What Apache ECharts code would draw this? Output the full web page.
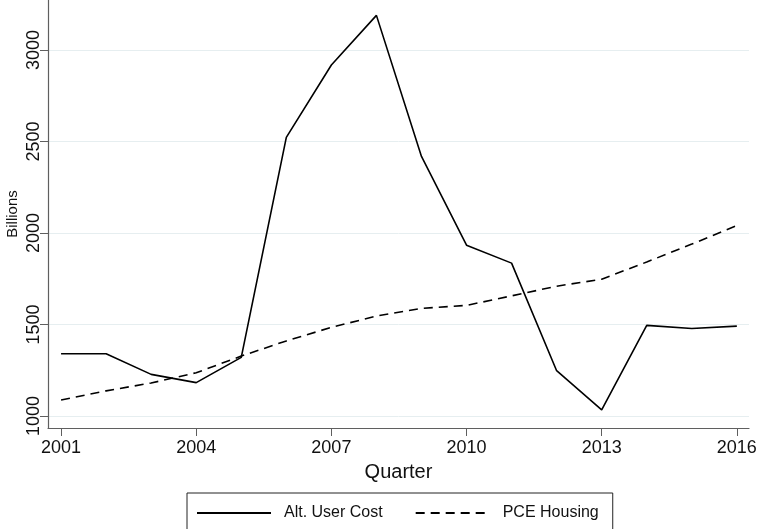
<!DOCTYPE html>
<html>
<head>
<meta charset="utf-8">
<script src="https://cdn.jsdelivr.net/npm/echarts@6/dist/echarts.min.js"></script>
<style>
  html, body { margin: 0; padding: 0; background: #fff; }
  #chart { width: 759px; height: 529px; }
</style>
</head>
<body>
<div id="chart"></div>
<script>
const years = [2001, 2002, 2003, 2004, 2005, 2006, 2007, 2008, 2009, 2010, 2011, 2012, 2013, 2014, 2015, 2016];
const altUserCost = [1340, 1340, 1227, 1182, 1320, 2522, 2918, 3189, 2418, 1933, 1835, 1247, 1033, 1495, 1478, 1491];
const pceHousing = [1087, 1137, 1180, 1236, 1327, 1410, 1484, 1546, 1588, 1604, 1656, 1709, 1747, 1841, 1939, 2040];
const xTicks = [2001, 2004, 2007, 2010, 2013, 2016];
const yTicks = [1000, 1500, 2000, 2500, 3000];

const font = "'Liberation Sans', Arial, Helvetica, sans-serif";
const axisColor = "#5f5f5f";

const chart = echarts.init(document.getElementById("chart"));

const option = {
  animation: false,
  backgroundColor: "#fff",
  textStyle: { fontFamily: font, color: "#111" },
  grid: { left: 48, right: 10, top: 0, bottom: 101, containLabel: false, outerBoundsMode: "none" },
  xAxis: {
    type: "value",
    min: 2000.71,
    max: 2016.27,
    name: "Quarter",
    nameLocation: "middle",
    nameGap: 34,
    nameTextStyle: { fontSize: 20, color: "#111", fontFamily: font },
    axisLine: { show: true, lineStyle: { color: axisColor, width: 1.2 } },
    axisTick: { show: true, length: 8, lineStyle: { color: axisColor }, customValues: xTicks },
    axisLabel: { fontSize: 18, color: "#111", margin: 11, customValues: xTicks, formatter: (v) => String(v) },
    splitLine: { show: false },
  },
  yAxis: {
    type: "value",
    min: 934,
    max: 3273,
    name: "Billions",
    nameLocation: "middle",
    nameGap: 28,
    nameMoveOverlap: false,
    nameTextStyle: { fontSize: 15, color: "#111", fontFamily: font },
    axisLine: { show: true, lineStyle: { color: axisColor, width: 1.2 } },
    axisTick: { show: true, length: 8, lineStyle: { color: axisColor }, customValues: yTicks },
    axisLabel: { fontSize: 18, color: "#111", rotate: 90, margin: 5, customValues: yTicks, formatter: (v) => String(v) },
    splitLine: { show: false },
  },
  legend: {
    left: 187,
    top: 493,
    padding: [12, 14, 30, 9],
    borderColor: "#222",
    borderWidth: 1,
    itemWidth: 74,
    itemHeight: 10,
    itemGap: 32,
    itemStyle: { opacity: 0 },
    textStyle: { fontSize: 16, color: "#111", fontFamily: font, padding: [0, 0, 0, 8] },
    data: ["Alt. User Cost", "PCE Housing"],
  },
  series: [
    {
      name: "Alt. User Cost",
      type: "line",
      data: years.map((y, i) => [y, altUserCost[i]]),
      symbol: "none",
      lineStyle: { color: "#000", width: 1.6 },
      itemStyle: { color: "#000" },
      markLine: {
        silent: true,
        symbol: "none",
        label: { show: false },
        lineStyle: { color: "#e6eef0", type: "solid", width: 1 },
        data: yTicks.map((v) => ({ yAxis: v })),
        z: 0,
      },
    },
    {
      name: "PCE Housing",
      type: "line",
      data: years.map((y, i) => [y, pceHousing[i]]),
      symbol: "none",
      lineStyle: { color: "#000", width: 1.6, type: [9, 6] },
      itemStyle: { color: "#000" },
    },
  ],
};

chart.setOption(option);
</script>
</body>
</html>
